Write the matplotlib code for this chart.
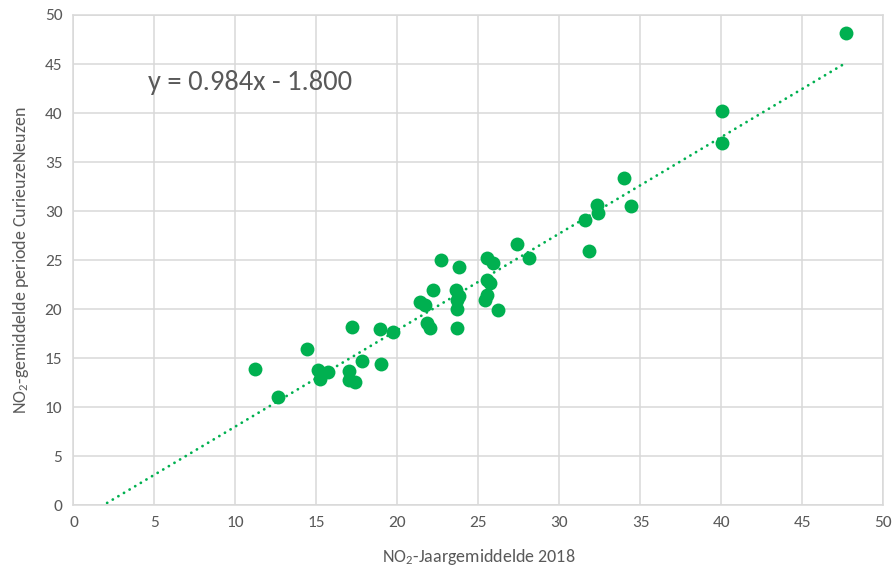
import matplotlib
matplotlib.use("Agg")
import matplotlib.pyplot as plt
from matplotlib import font_manager as fm
import numpy as np

# NO2 annual mean 2018 vs. CurieuzeNeuzen campaign mean (ug/m3)
jaargemiddelde = [11.2, 12.6, 14.4, 15.1, 15.2, 15.7, 17.2, 17.0, 17.0, 17.4,
                  17.8, 18.9, 19.7, 19.0, 21.4, 21.7, 21.8, 22.0, 22.2, 22.7,
                  23.6, 23.8, 23.7, 23.7, 23.7, 23.8, 25.5, 25.9, 25.5, 25.7,
                  25.5, 25.4, 26.2, 27.4, 28.1, 31.6, 31.8, 32.3, 32.4, 34.0,
                  34.4, 40.05, 40.05, 47.7]
curieuzeneuzen = [13.9, 11.0, 15.9, 13.8, 12.9, 13.6, 18.2, 13.7, 12.8, 12.6,
                  14.7, 18.0, 17.7, 14.4, 20.7, 20.4, 18.6, 18.1, 22.0, 25.0,
                  22.0, 21.3, 20.9, 20.0, 18.1, 24.3, 25.2, 24.7, 23.0, 22.7,
                  21.4, 20.9, 19.9, 26.6, 25.2, 29.1, 25.9, 30.6, 29.8, 33.4,
                  30.5, 40.2, 36.9, 48.2]

# linear trendline coefficients
slope = 0.984
intercept = -1.800

names = {f.name for f in fm.fontManager.ttflist}
font = "DejaVu Sans"
for cand in ["Carlito", "Liberation Sans Narrow", "Open Sans"]:
    if cand in names:
        font = cand
        break
plt.rcParams["font.family"] = [font, "DejaVu Sans"]
plt.rcParams["mathtext.default"] = "regular"

green = "#00B050"
grey = "#595959"
gridc = "#D9D9D9"

fig = plt.figure(figsize=(8.95, 5.72), dpi=100)
ax = fig.add_axes([0.0821, 0.1166, 0.905, 0.8572])

ax.scatter(jaargemiddelde, curieuzeneuzen, s=100, color=green, zorder=3,
           linewidths=0)

xt = np.array([0, max(jaargemiddelde)])
ax.plot(xt, slope * xt + intercept, color=green, lw=2.0,
        linestyle=(0, (0.05, 2.3)), dash_capstyle="round", zorder=2)

ax.text(0.0925, 0.862, "y = 0.984x - 1.800", transform=ax.transAxes,
        fontsize=20.5, color=grey, va="center", ha="left")

ax.set_xlim(0, 50)
ax.set_ylim(0, 50)
ax.set_xticks(np.arange(0, 51, 5))
ax.set_yticks(np.arange(0, 51, 5))
ax.grid(True, color=gridc, lw=1.1)
ax.set_axisbelow(True)
for sp in ax.spines.values():
    sp.set_color(gridc)
    sp.set_linewidth(1.1)
ax.tick_params(length=0, labelsize=12.5, colors=grey, pad=8)

ax.set_xlabel("NO$_2$-Jaargemiddelde 2018", fontsize=13, color=grey,
              labelpad=12)
ax.set_ylabel("NO$_2$-gemiddelde periode CurieuzeNeuzen", fontsize=13,
              color=grey, labelpad=10)

fig.savefig("out.png", dpi=100)
